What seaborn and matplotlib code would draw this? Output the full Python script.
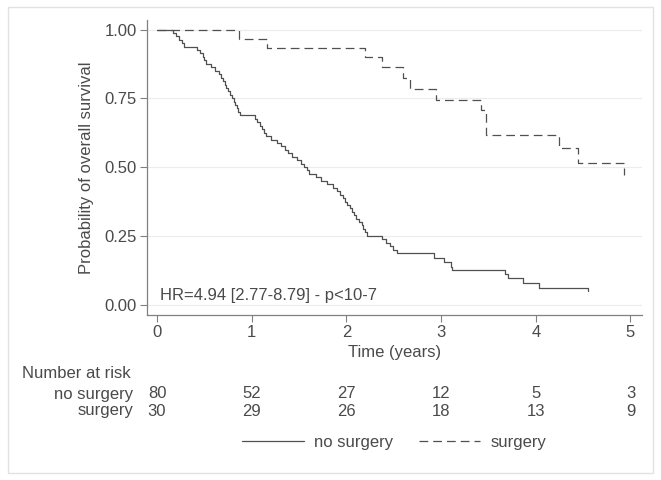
# Kaplan-Meier style survival curves with number-at-risk table

import pandas as pd
import numpy as np
import matplotlib.pyplot as plt
import matplotlib.transforms as mtransforms
from matplotlib.patches import Rectangle
import seaborn as sns

# step curve (time in years, survival after the step)
nosurg_time = [0.00, 0.17, 0.20, 0.23, 0.26, 0.28, 0.42, 0.45, 0.48, 0.50, 0.52,
               0.57, 0.61, 0.65, 0.68, 0.70, 0.72, 0.73, 0.75, 0.77, 0.79, 0.81,
               0.82, 0.84, 0.86, 0.88, 1.03, 1.06, 1.09, 1.11, 1.13, 1.15, 1.20,
               1.27, 1.31, 1.35, 1.38, 1.43, 1.48, 1.52, 1.55, 1.58, 1.61, 1.68,
               1.73, 1.80, 1.86, 1.90, 1.93, 1.96, 1.99, 2.01, 2.04, 2.06, 2.08,
               2.10, 2.13, 2.16, 2.18, 2.20, 2.22, 2.38, 2.42, 2.46, 2.49, 2.53,
               2.92, 3.03, 3.10, 3.12, 3.67, 3.71, 3.86, 4.03, 4.55, 4.55]
nosurg_surv = [1.000, 0.988, 0.975, 0.963, 0.950, 0.938, 0.925, 0.913, 0.900, 0.888, 0.875,
               0.863, 0.850, 0.838, 0.825, 0.813, 0.800, 0.788, 0.775, 0.763, 0.750, 0.738,
               0.725, 0.713, 0.700, 0.688, 0.675, 0.663, 0.650, 0.638, 0.625, 0.613, 0.600,
               0.588, 0.575, 0.563, 0.550, 0.538, 0.525, 0.513, 0.500, 0.488, 0.475, 0.463,
               0.450, 0.438, 0.425, 0.413, 0.400, 0.388, 0.375, 0.363, 0.350, 0.338, 0.325,
               0.313, 0.300, 0.288, 0.275, 0.263, 0.250, 0.238, 0.225, 0.213, 0.200, 0.188,
               0.171, 0.154, 0.137, 0.125, 0.110, 0.096, 0.079, 0.062, 0.062, 0.048]

surg_time = [0.00, 0.87, 1.16, 2.20, 2.38, 2.60, 2.67, 2.95, 3.42, 3.47, 4.24, 4.45, 4.93, 4.93]
surg_surv = [1.000, 0.967, 0.933, 0.900, 0.863, 0.822, 0.784, 0.745, 0.709, 0.618, 0.570, 0.515, 0.515, 0.473]

risk_times = [0, 1, 2, 3, 4, 5]
risk_nosurg = [80, 52, 27, 12, 5, 3]
risk_surg = [30, 29, 26, 18, 13, 9]

sns.set_style("white")
plt.rcParams['font.family'] = ['Liberation Sans', 'DejaVu Sans']
txt = '#4a4a4a'
line_col = '#505050'
fs = 12

df_no = pd.DataFrame({'time': nosurg_time, 'surv': nosurg_surv})
df_su = pd.DataFrame({'time': surg_time, 'surv': surg_surv})

fig = plt.figure(figsize=(6.61, 4.8), dpi=100)
ax = fig.add_axes([0.222, 0.344, 0.749, 0.614])

sns.lineplot(data=df_no, x='time', y='surv', estimator=None, sort=False,
             drawstyle='steps-post', color=line_col, linewidth=0.9, ax=ax,
             label='no surgery')
sns.lineplot(data=df_su, x='time', y='surv', estimator=None, sort=False,
             drawstyle='steps-post', color=line_col, linewidth=0.9, ax=ax,
             label='surgery')
ax.lines[1].set_dashes((7, 4))

ax.set_xlim(-0.109, 5.12)
ax.set_ylim(-0.037, 1.034)
ax.set_xticks(risk_times)
ax.set_yticks([0, 0.25, 0.5, 0.75, 1.0])
ax.set_yticklabels(['0.00', '0.25', '0.50', '0.75', '1.00'])
ax.yaxis.grid(True, color='#ececec', linewidth=0.8)
ax.xaxis.grid(False)
for s in ['top', 'right']:
    ax.spines[s].set_visible(False)
for s in ['left', 'bottom']:
    ax.spines[s].set_color('#808080')
    ax.spines[s].set_linewidth(0.9)
ax.tick_params(axis='both', which='major', direction='out', length=5, width=0.8,
               color='#808080', labelsize=fs, labelcolor=txt, pad=2)
ax.tick_params(bottom=True, left=True)
ax.set_xlabel('Time (years)', fontsize=fs, color=txt, labelpad=4)
ax.set_ylabel('Probability of overall survival', fontsize=fs, color=txt, labelpad=8)
ax.get_legend().remove()

ax.text(0.03, 0.035, 'HR=4.94 [2.77-8.79] - p<10-7', fontsize=fs, color=txt,
        ha='left', va='center')

# number at risk table
trans = mtransforms.blended_transform_factory(ax.transData, fig.transFigure)
fig.text(22 / 661, 1 - 374 / 480, 'Number at risk', fontsize=fs, color=txt,
         ha='left', va='center')
fig.text(133 / 661, 1 - 394 / 480, 'no surgery', fontsize=fs, color=txt,
         ha='right', va='center')
fig.text(133 / 661, 1 - 411 / 480, 'surgery', fontsize=fs, color=txt,
         ha='right', va='center')
for t, a, b in zip(risk_times, risk_nosurg, risk_surg):
    ax.text(t, 1 - 394 / 480, str(a), transform=trans, fontsize=fs, color=txt,
            ha='center', va='center')
    ax.text(t, 1 - 411 / 480, str(b), transform=trans, fontsize=fs, color=txt,
            ha='center', va='center')

handles = ax.get_lines()[:2]
fig.legend(handles, ['no surgery', 'surgery'], loc='center',
           bbox_to_anchor=(394 / 661, 1 - 442 / 480), ncol=2, frameon=False,
           fontsize=fs, labelcolor=txt, handlelength=3.7, handletextpad=0.6,
           columnspacing=1.55)

# light outer frame
fig.patches.append(Rectangle((8 / 661, 7 / 480), 645 / 661, 466 / 480,
                             transform=fig.transFigure, fill=False,
                             edgecolor='#e2e2e2', linewidth=1.0))

plt.savefig('out.png', dpi=100)
print("Figure save: out.png")
